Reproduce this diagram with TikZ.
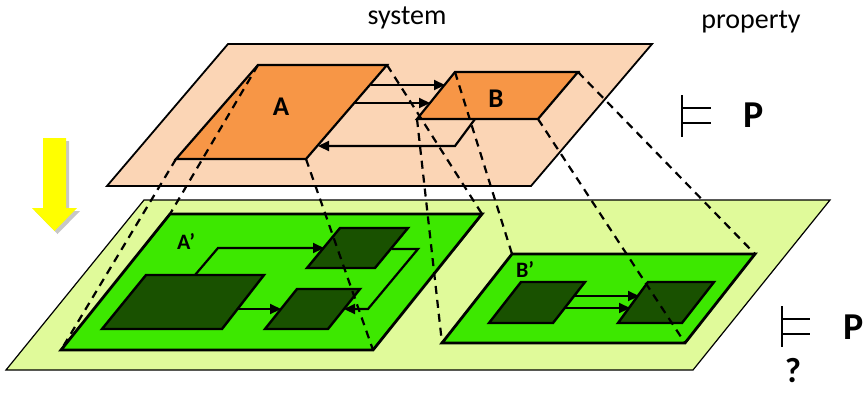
\documentclass[tikz,border=0pt]{standalone}
\usepackage{fontspec}
\setmainfont{Carlito}
\usetikzlibrary{arrows.meta}
\definecolor{peach}{HTML}{FBD5B5}
\definecolor{compo}{HTML}{F79646}
\definecolor{lgreen}{HTML}{E0FA9A}
\definecolor{bgreen}{HTML}{3DE800}
\definecolor{dgreen}{HTML}{195100}
\definecolor{arrowyellow}{HTML}{FFFF00}
\begin{document}
\begin{tikzpicture}[x=1pt,y=-1pt,
  outerplane/.style={draw=black,line width=1.2pt},
  toppl/.style={outerplane,fill=peach,line width=1.8pt},
  botpl/.style={outerplane,fill=lgreen},
  compbox/.style={draw=black,line width=2.2pt,fill=compo},
  subplane/.style={draw=black,line width=2.8pt,fill=bgreen},
  darkbox/.style={draw=black,line width=2.4pt,fill=dgreen},
  flow/.style={draw=black,line width=2.2pt,-{Triangle[length=11pt,width=10pt]}},
  proj/.style={draw=black,line width=2.2pt,dash pattern=on 8pt off 6pt},
  turnstile/.style={draw=black,line width=2.8pt},
  heading/.style={font=\fontsize{28}{30}\selectfont,inner sep=0pt},
  big/.style={font=\bfseries\fontsize{38}{40}\selectfont,inner sep=0pt},
  clabel/.style={font=\bfseries\fontsize{27}{29}\selectfont,inner sep=0pt},
  plabel/.style={font=\bfseries\fontsize{22}{24}\selectfont,inner sep=0pt}]
\path[use as bounding box] (0,0) rectangle (868,392);

% ---------- corner points ----------
% system level
\coordinate (pBL) at (107,186); \coordinate (pTL) at (228,44);
\coordinate (pTR) at (652,44);  \coordinate (pBR) at (531,186);
\coordinate (aTL) at (258,65);  \coordinate (aTR) at (387,65);
\coordinate (aBR) at (306,159); \coordinate (aBL) at (176,159);
\coordinate (bTL) at (455,72);  \coordinate (bTR) at (578,72);
\coordinate (bBR) at (538,119); \coordinate (bBL) at (417,119);
% refined level
\coordinate (gBL) at (6,370);   \coordinate (gTL) at (144,200);
\coordinate (gTR) at (830,200); \coordinate (gBR) at (693,370);
\coordinate (apBL) at (61,350); \coordinate (apTL) at (170,214);
\coordinate (apTR) at (482,214);\coordinate (apBR) at (373,350);
\coordinate (bpBL) at (442,343);\coordinate (bpTL) at (512,254);
\coordinate (bpTR) at (755,254);\coordinate (bpBR) at (685,343);

% ---------- refinement arrow ----------
\fill[black,opacity=0.22] (46,141) -- (69,141) -- (69,211) -- (80,211) -- (57.5,234) -- (35,211) -- (46,211) -- cycle;
\fill[arrowyellow] (43,138) -- (66,138) -- (66,208) -- (77,208) -- (54.5,231) -- (32,208) -- (43,208) -- cycle;

% ---------- refined level ----------
\path[botpl] (gBL) -- (gTL) -- (gTR) -- (gBR) -- cycle;
\path[subplane] (apBL) -- (apTL) -- (apTR) -- (apBR) -- cycle;
\path[subplane] (bpBL) -- (bpTL) -- (bpTR) -- (bpBR) -- cycle;

% components of A'
\path[darkbox] (146,275) -- (264,275) -- (222,329) -- (102,329) -- cycle;
\path[darkbox] (340,228) -- (408,228) -- (375,268) -- (307,268) -- cycle;
\path[darkbox] (297,289) -- (360,289) -- (328,329) -- (265,329) -- cycle;
\coordinate (a1s) at (195,275); \coordinate (a1k) at (218,248); \coordinate (a1e) at (324,248);
\coordinate (a2s) at (238,309); \coordinate (a2e) at (281,309);
\coordinate (a3s) at (392,249); \coordinate (a3k1) at (418,249);
\coordinate (a3k2) at (368,309); \coordinate (a3e) at (344,309);
\draw[flow] (a1s) -- (a1k) -- (a1e);
\draw[flow] (a2s) -- (a2e);
\draw[flow] (a3s) -- (a3k1) -- (a3k2) -- (a3e);

% components of B'
\path[darkbox] (521,282) -- (585,282) -- (553,323) -- (489,323) -- cycle;
\path[darkbox] (648,282) -- (714,282) -- (682,323) -- (618,323) -- cycle;
\coordinate (b1s) at (574,296); \coordinate (b1e) at (639,296);
\coordinate (b2s) at (565,308); \coordinate (b2e) at (630,308);
\draw[flow] (b1s) -- (b1e);
\draw[flow] (b2s) -- (b2e);

\node[plabel] (labAp) at (186,241) {A’};
\node[plabel] (labBp) at (525,269) {B’};

% ---------- system level ----------
\path[toppl] (pBL) -- (pTL) -- (pTR) -- (pBR) -- cycle;
\path[compbox] (aBL) -- (aTL) -- (aTR) -- (aBR) -- cycle;
\path[compbox] (bBL) -- (bTL) -- (bTR) -- (bBR) -- cycle;
\node[clabel] (labA) at (281,107) {A};
\node[clabel] (labB) at (496,99) {B};

\coordinate (t1s) at (371,85);  \coordinate (t1e) at (445,85);
\coordinate (t2s) at (355,103); \coordinate (t2e) at (430,103);
\coordinate (t3s) at (475,119); \coordinate (t3k) at (455,146); \coordinate (t3e) at (318,146);
\draw[flow] (t1s) -- (t1e);
\draw[flow] (t2s) -- (t2e);
\draw[flow] (t3s) -- (t3k) -- (t3e);

% ---------- projections between the levels ----------
\draw[proj] (aTL) -- (apTL);
\draw[proj] (aBL) -- (apBL);
\draw[proj] (aTR) -- (apTR);
\draw[proj] (aBR) -- (apBR);
\draw[proj] (bTL) -- (bpTL);
\draw[proj] (bBL) -- (bpBL);
\draw[proj] (bTR) -- (bpTR);
\draw[proj] (bBR) -- (bpBR);

% ---------- headings and satisfaction ----------
\node[heading] (sys) at (407,18) {system};
\node[heading] (prop) at (751,22) {property};

\coordinate (s1t) at (682,95);  \coordinate (s1b) at (682,137);
\coordinate (s1u) at (682,108); \coordinate (s1ue) at (711,108);
\coordinate (s1l) at (682,123); \coordinate (s1le) at (711,123);
\draw[turnstile] (s1t) -- (s1b);
\draw[turnstile] (s1u) -- (s1ue);
\draw[turnstile] (s1l) -- (s1le);
\node[big] (P1) at (753.5,115.5) {P};

\coordinate (s2t) at (782,306); \coordinate (s2b) at (782,347);
\coordinate (s2u) at (782,319); \coordinate (s2ue) at (810,319);
\coordinate (s2l) at (782,334); \coordinate (s2le) at (810,334);
\draw[turnstile] (s2t) -- (s2b);
\draw[turnstile] (s2u) -- (s2ue);
\draw[turnstile] (s2l) -- (s2le);
\node[big] (P2) at (853.5,327) {P};
\node[big,font=\bfseries\fontsize{35}{37}\selectfont] (qm) at (793,371) {?};
\end{tikzpicture}
\end{document}
